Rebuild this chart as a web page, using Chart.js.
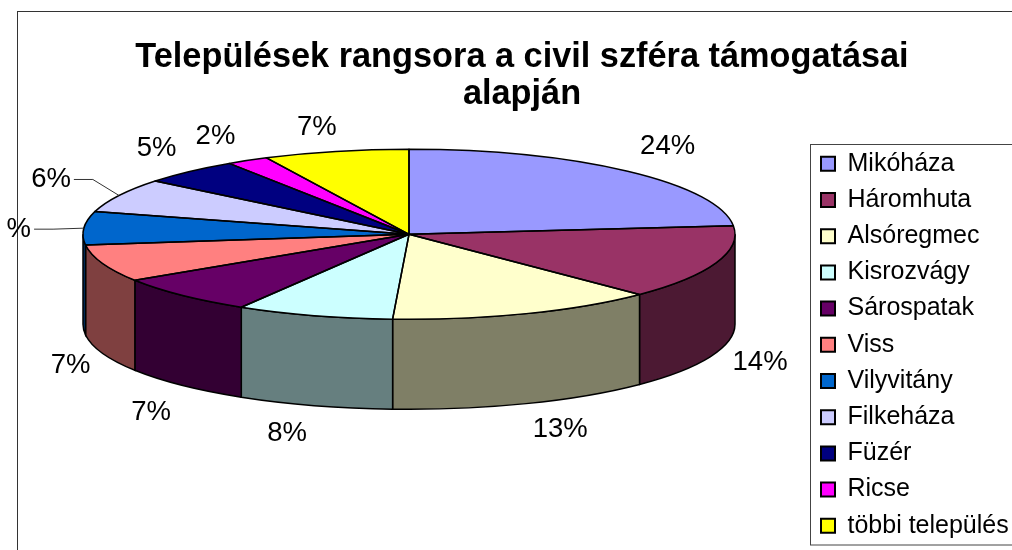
<!DOCTYPE html>
<html>
<head>
<meta charset="utf-8">
<title>Települések rangsora</title>
<script src="https://cdn.jsdelivr.net/npm/chart.js@4"></script>
<style>
    html, body { margin: 0; padding: 0; background: #fff; overflow: hidden; }
    canvas { display: block; }
</style>
</head>
<body>
<canvas id="pie3d" width="1012" height="550"></canvas>
<script>
const titleLines = ['Települések rangsora a civil szféra támogatásai', 'alapján'];
const categories = ['Mikóháza', 'Háromhuta', 'Alsóregmec', 'Kisrozvágy', 'Sárospatak', 'Viss', 'Vilyvitány', 'Filkeháza', 'Füzér', 'Ricse', 'többi település'];
const values = [23.4, 14.1, 13.3, 7.8, 7.3, 7.1, 6.3, 6.5, 4.9, 2.1, 7.2];
// the Vilyvitány label is cut by the frame in the original, only the % shows
const percentLabels = ['24%', '14%', '13%', '8%', '7%', '7%', '%', '6%', '5%', '2%', '7%'];
const sliceColors = ['#9999FF', '#993366', '#FFFFCC', '#CCFFFF', '#660066', '#FF8080', '#0066CC', '#CCCCFF', '#000080', '#FF00FF', '#FFFF00'];

// label offset from the rim point of its slice, in px
const labelOffsets = [[40, -25], [44, 100], [34, 116], [-27, 118], [-31, 117], [-32, 102], [-65, 1], [-68, -16], [-33, -23], [-32, -24], [-19, -24]];
const leaderLabels = [6, 7];

// how the flat pie is squashed on the page
const pieX = 409;
const pieY = 234.3;
const pieRx = 326;
const pieRy = 85;
const pieDepth = 90;

const fontName = '"Liberation Sans", Arial, sans-serif';

function darker(hex) {
    let r = parseInt(hex.slice(1, 3), 16) >> 1;
    let g = parseInt(hex.slice(3, 5), 16) >> 1;
    let b = parseInt(hex.slice(5, 7), 16) >> 1;
    return 'rgb(' + r + ',' + g + ',' + b + ')';
}

const pie3d = {
    id: 'pie3d',
    afterLayout(chart) {
        // legend sits in its own frame, not where the layout puts it
        let legend = chart.legend;
        legend.left = 809.8;
        legend.right = 1012;
        legend.top = 140.1;
        legend.bottom = 600;
    },
    beforeDraw(chart) {
        let ctx = chart.ctx;
        ctx.save();
        ctx.fillStyle = '#fff';
        ctx.fillRect(0, 0, chart.width, chart.height);
        ctx.strokeStyle = '#333';
        ctx.lineWidth = 1;
        ctx.strokeRect(17.5, 11.5, 1200, 800);
        ctx.strokeStyle = '#444';
        ctx.strokeRect(810.5, 144.5, 400, 400.5);
        ctx.restore();
    },
    beforeDatasetsDraw(chart) {
        let ctx = chart.ctx;
        let arcs = chart.getDatasetMeta(0).data;
        ctx.save();
        ctx.strokeStyle = '#000';
        ctx.lineWidth = 1.5;
        arcs.forEach((arc, i) => {
            let s = Math.max(arc.startAngle, 0);
            let e = Math.min(arc.endAngle, Math.PI);
            if (e <= s) return;
            ctx.beginPath();
            ctx.ellipse(pieX, pieY, pieRx, pieRy, 0, s, e);
            ctx.ellipse(pieX, pieY + pieDepth, pieRx, pieRy, 0, e, s, true);
            ctx.closePath();
            ctx.fillStyle = darker(sliceColors[i]);
            ctx.fill();
            ctx.stroke();
        });
        ctx.restore();

        let first = arcs[0];
        ctx.save();
        ctx.translate(pieX, pieY);
        ctx.scale(pieRx / first.outerRadius, pieRy / first.outerRadius);
        ctx.translate(-first.x, -first.y);
    },
    afterDatasetsDraw(chart) {
        let ctx = chart.ctx;
        let arcs = chart.getDatasetMeta(0).data;
        ctx.restore();

        ctx.save();
        ctx.strokeStyle = '#000';
        ctx.lineWidth = 1.5;
        ctx.lineJoin = 'round';
        arcs.forEach((arc) => {
            ctx.beginPath();
            ctx.moveTo(pieX, pieY);
            ctx.ellipse(pieX, pieY, pieRx, pieRy, 0, arc.startAngle, arc.endAngle);
            ctx.closePath();
            ctx.stroke();
        });

        ctx.font = '27.5px ' + fontName;
        ctx.textAlign = 'center';
        ctx.textBaseline = 'middle';
        ctx.fillStyle = '#000';
        arcs.forEach((arc, i) => {
            let mid = (arc.startAngle + arc.endAngle) / 2;
            let rimX = pieX + pieRx * Math.cos(mid);
            let rimY = pieY + pieRy * Math.sin(mid);
            let x = rimX + labelOffsets[i][0];
            let y = rimY + labelOffsets[i][1];
            ctx.fillText(percentLabels[i], x, y);
            if (leaderLabels.includes(i)) {
                let lineEnd = x + ctx.measureText(percentLabels[i]).width / 2 + 3;
                ctx.save();
                ctx.strokeStyle = '#333';
                ctx.lineWidth = 1;
                ctx.beginPath();
                ctx.moveTo(rimX, rimY);
                ctx.lineTo(lineEnd + 19, y);
                ctx.lineTo(lineEnd, y);
                ctx.stroke();
                ctx.restore();
            }
        });
        ctx.restore();
    }
};

new Chart(document.getElementById('pie3d').getContext('2d'), {
    type: 'pie',
    data: {
        labels: categories,
        datasets: [{
            data: values,
            backgroundColor: sliceColors,
            borderWidth: 0
        }]
    },
    options: {
        responsive: false,
        animation: false,
        events: [],
        layout: { padding: { left: 32, top: 20 } },
        plugins: {
            title: {
                display: true,
                text: titleLines,
                color: '#000',
                font: { family: fontName, size: 34.3, weight: 'bold', lineHeight: 1.08 },
                padding: { top: 19, bottom: 0 }
            },
            legend: {
                position: 'right',
                align: 'start',
                labels: {
                    color: '#000',
                    font: { family: fontName, size: 25 },
                    boxWidth: 14,
                    boxHeight: 14,
                    padding: 11.2,
                    generateLabels(chart) {
                        let items = Chart.overrides.pie.plugins.legend.labels.generateLabels(chart);
                        items.forEach((item) => {
                            item.strokeStyle = '#000';
                            item.lineWidth = 2;
                        });
                        return items;
                    }
                }
            },
            tooltip: { enabled: false }
        }
    },
    plugins: [pie3d]
});
</script>
</body>
</html>
